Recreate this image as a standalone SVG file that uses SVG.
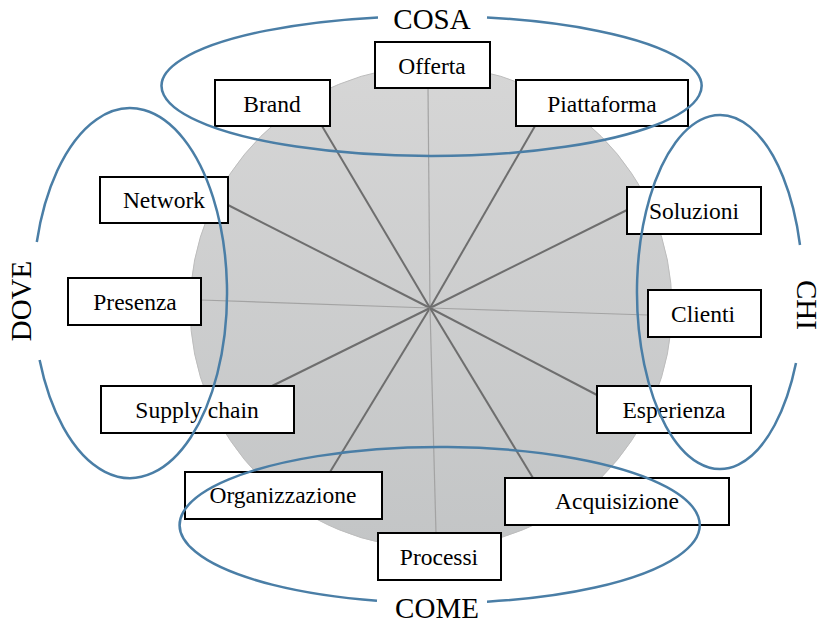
<svg xmlns="http://www.w3.org/2000/svg" width="823" height="625" viewBox="0 0 823 625">
<defs>
<linearGradient id="bg" x1="0" y1="0" x2="0" y2="1">
<stop offset="0" stop-color="#d6d6d6"/>
<stop offset="1" stop-color="#c3c5c6"/>
</linearGradient>
<style>
.box rect{fill:#fff;stroke:#000;stroke-width:2}
.box text,.lbl{font-family:"Liberation Serif",serif;fill:#000;text-anchor:middle}
.box text{font-size:23.5px}
.lbl{font-size:29px}
.sp{stroke:#6e6e6e;stroke-width:2}
.sl{stroke:#a3a3a3;stroke-width:1.2}
.grp{fill:none;stroke:#4a7ea6;stroke-width:2.5}
</style>
</defs>
<rect width="823" height="625" fill="#fff"/>
<circle cx="431" cy="307" r="241" fill="url(#bg)" stroke="#bdbdbd" stroke-width="1"/>
<g id="connectors">
<line class="sl" x1="430" y1="308" x2="428" y2="88"/>
<line class="sp" x1="430" y1="308" x2="322" y2="126"/>
<line class="sp" x1="430" y1="308" x2="535" y2="126"/>
<line class="sp" x1="430" y1="308" x2="228" y2="205"/>
<line class="sl" x1="430" y1="308" x2="201" y2="300"/>
<line class="sp" x1="430" y1="308" x2="272" y2="386"/>
<line class="sp" x1="430" y1="308" x2="627" y2="210"/>
<line class="sl" x1="430" y1="308" x2="648" y2="315"/>
<line class="sp" x1="430" y1="308" x2="597" y2="395"/>
<line class="sp" x1="430" y1="308" x2="330" y2="472"/>
<line class="sl" x1="430" y1="308" x2="436" y2="533"/>
<line class="sp" x1="430" y1="308" x2="533" y2="478"/>
</g>
<g id="offerta" class="box"><rect x="375" y="42" width="115" height="46"/><text x="432" y="74">Offerta</text></g>
<g id="brand" class="box"><rect x="215" y="80" width="115" height="46"/><text x="272" y="112">Brand</text></g>
<g id="piattaforma" class="box"><rect x="516" y="80" width="172" height="46"/><text x="602" y="112">Piattaforma</text></g>
<g id="network" class="box"><rect x="100" y="177" width="128" height="46"/><text x="164" y="208">Network</text></g>
<g id="presenza" class="box"><rect x="68" y="278" width="133" height="47"/><text x="135" y="310">Presenza</text></g>
<g id="supply-chain" class="box"><rect x="101" y="386" width="193" height="47"/><text x="197" y="418">Supply chain</text></g>
<g id="soluzioni" class="box"><rect x="627" y="187" width="134" height="47"/><text x="694" y="219">Soluzioni</text></g>
<g id="clienti" class="box"><rect x="648" y="290" width="113" height="47"/><text x="703" y="322">Clienti</text></g>
<g id="esperienza" class="box"><rect x="597" y="386" width="154" height="47"/><text x="674" y="418">Esperienza</text></g>
<g id="organizzazione" class="box"><rect x="185" y="472" width="197" height="47"/><text x="283" y="503">Organizzazione</text></g>
<g id="acquisizione" class="box"><rect x="505" y="478" width="224" height="47"/><text x="617" y="509">Acquisizione</text></g>
<g id="processi" class="box"><rect x="378" y="533" width="123" height="47"/><text x="439" y="565">Processi</text></g>
<g id="groups">
<path class="grp" d="M487,17.5 A270 70 0 1 1 378,17.4"/>
<path class="grp" d="M377,600.7 A260 78 0 1 1 487,601.7"/>
<path class="grp" d="M36.8,242 A97 185 0 1 1 39.6,360"/>
<path class="grp" d="M796,363 A83 177 0 1 1 800,245"/>
</g>
<g id="labels">
<text class="lbl" x="432" y="29">COSA</text>
<text class="lbl" x="437" y="618">COME</text>
<text class="lbl" transform="translate(31,301) rotate(-90)">DOVE</text>
<text class="lbl" transform="translate(797,305) rotate(90)">CHI</text>
</g>
</svg>
